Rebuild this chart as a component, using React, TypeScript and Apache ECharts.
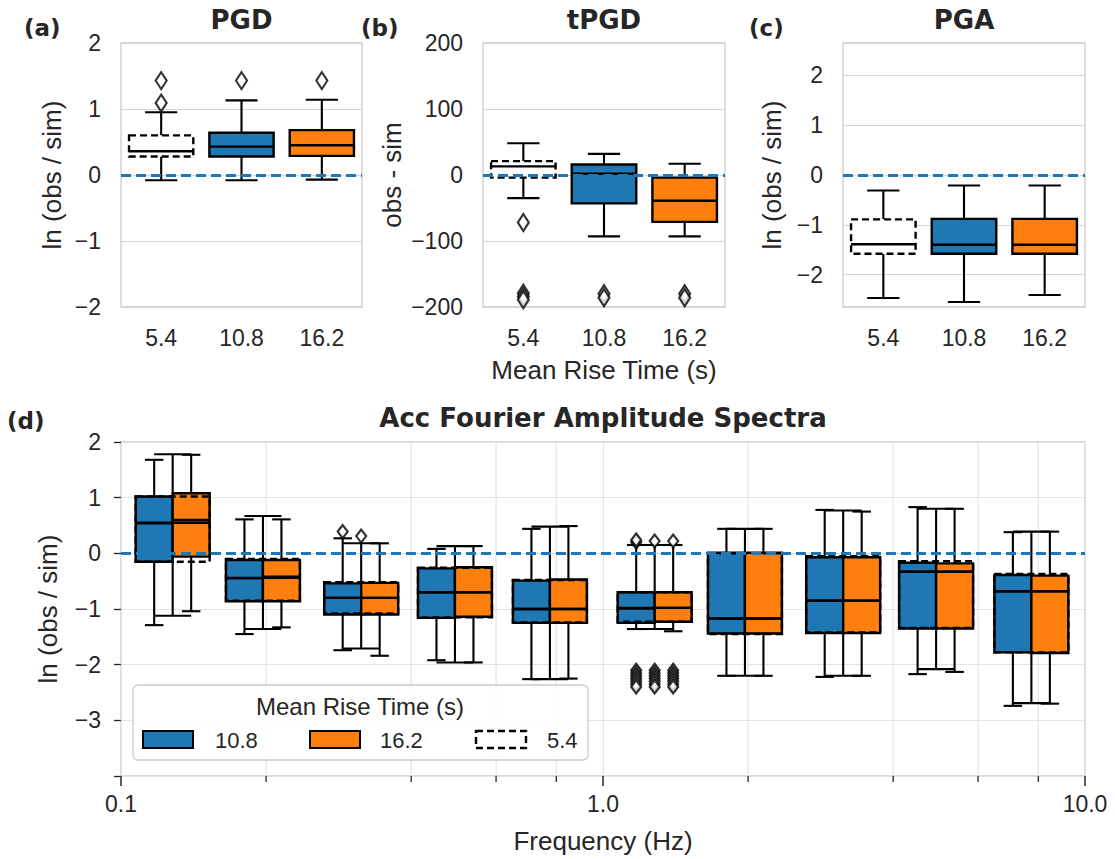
import React, { useEffect, useRef } from 'react';
import * as echarts from 'echarts';

const riseTimes = ['5.4', '10.8', '16.2'];

// each box: [lower whisker, Q1, median, Q3, upper whisker]
const pgdBoxes = [
  [-0.08, 0.28, 0.36, 0.6, 0.95],
  [-0.08, 0.28, 0.43, 0.64, 1.13],
  [-0.07, 0.29, 0.45, 0.68, 1.14],
];
const pgdOutliers = [[1.09, 1.43], [1.43], [1.43]];

const tpgdBoxes = [
  [-35, -4, 13, 21, 48],
  [-93, -43, 2, 16, 32],
  [-93, -71, -39, -4, 17],
];
const tpgdOutliers = [[-72, -179, -184, -189], [-180, -186], [-180, -186]];

const pgaBoxes = [
  [-2.47, -1.58, -1.39, -0.89, -0.31],
  [-2.55, -1.58, -1.4, -0.88, -0.21],
  [-2.41, -1.58, -1.4, -0.88, -0.21],
];
const pgaOutliers: number[][] = [[], [], []];

// Acc Fourier amplitude spectra, frequency bins (Hz)
const freqs = [0.128, 0.197, 0.315, 0.493, 0.776, 1.28, 1.97, 3.15, 4.91, 7.74];
const fas108 = [
  [-1.29, -0.15, 0.54, 1.02, 1.68],
  [-1.45, -0.86, -0.45, -0.12, 0.61],
  [-1.74, -1.1, -0.8, -0.54, 0.27],
  [-1.92, -1.16, -0.7, -0.27, 0.08],
  [-2.26, -1.25, -1.0, -0.49, 0.44],
  [-1.36, -1.25, -0.99, -0.7, 0.15],
  [-2.2, -1.44, -1.17, 0.01, 0.44],
  [-2.22, -1.43, -0.85, -0.07, 0.78],
  [-2.17, -1.35, -0.33, -0.17, 0.83],
  [-2.74, -1.78, -0.68, -0.39, 0.38],
];
const fas162 = [
  [-1.04, -0.06, 0.6, 1.08, 1.77],
  [-1.33, -0.86, -0.42, -0.12, 0.61],
  [-1.84, -1.1, -0.8, -0.53, 0.18],
  [-1.96, -1.14, -0.7, -0.25, 0.13],
  [-2.25, -1.25, -1.0, -0.47, 0.49],
  [-1.4, -1.23, -0.98, -0.7, 0.15],
  [-2.2, -1.44, -1.17, 0.01, 0.44],
  [-2.2, -1.43, -0.85, -0.07, 0.75],
  [-2.13, -1.35, -0.33, -0.18, 0.8],
  [-2.7, -1.79, -0.68, -0.4, 0.39],
];
const fas54 = [
  [-1.12, -0.15, 0.55, 1.02, 1.78],
  [-1.36, -0.85, -0.44, -0.1, 0.67],
  [-1.71, -1.08, -0.8, -0.52, 0.18],
  [-1.96, -1.15, -0.7, -0.26, 0.13],
  [-2.26, -1.24, -1.0, -0.48, 0.48],
  [-1.36, -1.23, -0.98, -0.7, 0.15],
  [-2.2, -1.45, -1.17, 0.0, 0.44],
  [-2.2, -1.42, -0.85, -0.05, 0.77],
  [-2.08, -1.34, -0.33, -0.14, 0.8],
  [-2.69, -1.78, -0.68, -0.37, 0.39],
];
const fasOut108 = [[], [], [0.39], [], [], [0.2, 0.24, -2.1, -2.15, -2.2, -2.25, -2.3, -2.35, -2.4], [], [], [], []];
const fasOut162 = [[], [], [], [], [], [0.22, -2.1, -2.15, -2.2, -2.25, -2.3, -2.35, -2.4], [], [], [], []];
const fasOut54 = [[], [], [0.31], [], [], [0.22, -2.1, -2.15, -2.2, -2.25, -2.3, -2.35, -2.4], [], [], [], []];
const freqMinorTicks = [0.2, 0.4, 0.6, 0.8, 2, 4, 6, 8];

const BLUE = '#1f77b4';
const ORANGE = '#ff7f0e';
const TEXT = '#262626';
const GRIDC = '#d6d6d6';
const SANS = '"Liberation Sans", Arial, Helvetica, sans-serif';
const BOLD = '"DejaVu Sans", sans-serif';
const BOXW_LOG = 0.1535; // box group width in decades

function fmt(v: number) {
  if (Math.abs(v - Math.round(v)) > 1e-6) return '';
  return v < 0 ? '\u2212' + Math.abs(Math.round(v)) : String(Math.round(v));
}

function boxRenderer(a: number, b: number, fill: string, dashed: boolean, widthOf: (api: any) => number) {
  return (params: any, api: any) => {
    const xv = api.value(0);
    const cx = api.coord([xv, 0])[0];
    const W = widthOf(api);
    const left = cx + a * W;
    const right = cx + b * W;
    const mid = (left + right) / 2;
    const ch = (right - left) / 4;
    const y = (i: number) => api.coord([xv, api.value(i)])[1];
    const yLo = y(1), yQ1 = y(2), yMed = y(3), yQ3 = y(4), yHi = y(5);
    const ls = { stroke: '#000', lineWidth: 2.1 };
    const rectStyle: any = { fill, stroke: '#000', lineWidth: 2.4 };
    if (dashed) rectStyle.lineDash = [7, 4];
    return {
      type: 'group',
      children: [
        { type: 'line', shape: { x1: mid, y1: yQ3, x2: mid, y2: yHi }, style: ls },
        { type: 'line', shape: { x1: mid - ch, y1: yHi, x2: mid + ch, y2: yHi }, style: ls },
        { type: 'line', shape: { x1: mid, y1: yQ1, x2: mid, y2: yLo }, style: ls },
        { type: 'line', shape: { x1: mid - ch, y1: yLo, x2: mid + ch, y2: yLo }, style: ls },
        { type: 'rect', shape: { x: left, y: yQ3, width: right - left, height: yQ1 - yQ3 }, style: rectStyle },
        { type: 'line', shape: { x1: left, y1: yMed, x2: right, y2: yMed }, style: { stroke: '#000', lineWidth: 2.4 } },
      ],
    };
  };
}

const catWidth = (api: any) => 0.8 * api.size([1, 0])[0];
const logWidth = (api: any) => api.size([BOXW_LOG, 0])[0];

function zeroLine(idx: number) {
  return {
    type: 'line',
    xAxisIndex: idx,
    yAxisIndex: idx,
    data: [],
    z: 6,
    silent: true,
    markLine: {
      symbol: 'none',
      silent: true,
      label: { show: false },
      lineStyle: { color: BLUE, type: [10, 5], width: 3 },
      data: [{ yAxis: 0 }],
    },
  };
}

function outlierSeries(idx: number, data: number[][], size: number[]) {
  return {
    type: 'scatter',
    xAxisIndex: idx,
    yAxisIndex: idx,
    data,
    z: 5,
    silent: true,
    clip: false,
    symbol: 'diamond',
    symbolSize: size,
    itemStyle: { color: '#ffffff', borderColor: '#000000', borderWidth: 2.2 },
  };
}

function catYAxis(idx: number, min: number, max: number, name: string, extra: any = {}) {
  return {
    type: 'value',
    gridIndex: idx,
    min,
    max,
    ...extra,
    name,
    nameLocation: 'middle',
    nameGap: idx === 1 ? 78 : idx === 2 ? 58 : 56,
    nameTextStyle: { color: TEXT, fontSize: 26, fontFamily: SANS },
    axisLine: { show: false, onZero: false },
    axisTick: { show: false },
    axisLabel: { color: TEXT, fontSize: 23, fontFamily: SANS, margin: 20, formatter: fmt },
    splitLine: { show: true, lineStyle: { color: GRIDC, width: 1.2 } },
  };
}

function catXAxis(idx: number, name?: string) {
  return {
    type: 'category',
    gridIndex: idx,
    data: riseTimes,
    name: name || '',
    nameLocation: 'middle',
    nameGap: 50,
    nameTextStyle: { color: TEXT, fontSize: 26, fontFamily: SANS },
    axisLine: { show: false, onZero: false },
    axisTick: { show: false },
    axisLabel: { color: TEXT, fontSize: 23, fontFamily: SANS, margin: 19 },
    splitLine: { show: false },
  };
}

function topBoxSeries(idx: number, boxes: number[][], outliers: number[][]) {
  const styles = [
    { fill: '#ffffff', dashed: true },
    { fill: BLUE, dashed: false },
    { fill: ORANGE, dashed: false },
  ];
  const series: any[] = boxes.map((b, i) => ({
    type: 'custom',
    xAxisIndex: idx,
    yAxisIndex: idx,
    z: 3,
    silent: true,
    renderItem: boxRenderer(-0.5, 0.5, styles[i].fill, styles[i].dashed, catWidth),
    encode: { x: 0, y: [1, 2, 3, 4, 5] },
    data: [[i, ...b]],
  }));
  const od: number[][] = [];
  outliers.forEach((arr, i) => arr.forEach((v) => od.push([i, v])));
  series.push(outlierSeries(idx, od, [11, 17]));
  series.push(zeroLine(idx));
  return series;
}

function fasSeries() {
  const lx = freqs.map((f) => Math.log10(f));
  const mk = (boxes: number[][]) => boxes.map((b, i) => [lx[i], ...b]);
  const series: any[] = [];
  series.push({
    type: 'custom',
    xAxisIndex: 3,
    yAxisIndex: 3,
    z: 1,
    silent: true,
    clip: false,
    encode: { x: 0, y: 1 },
    data: freqMinorTicks.map((f) => [Math.log10(f), 0]),
    renderItem: (params: any, api: any) => {
      const x = api.coord([api.value(0), 0])[0];
      const cs = params.coordSys;
      return {
        type: 'group',
        children: [
          { type: 'line', shape: { x1: x, y1: cs.y, x2: x, y2: cs.y + cs.height }, style: { stroke: '#e3e3e3', lineWidth: 1.2 } },
          { type: 'line', shape: { x1: x, y1: cs.y + cs.height, x2: x, y2: cs.y + cs.height + 6 }, style: { stroke: TEXT, lineWidth: 1.3 } },
        ],
      };
    },
  });
  const defs: [number[][], number, number, string, boolean][] = [
    [fas108, -0.5, 0, BLUE, false],
    [fas162, 0, 0.5, ORANGE, false],
    [fas54, -0.5, 0.5, 'none', true],
  ];
  defs.forEach(([boxes, a, b, fill, dashed]) => {
    series.push({
      type: 'custom',
      xAxisIndex: 3,
      yAxisIndex: 3,
      z: 3,
      silent: true,
      renderItem: boxRenderer(a, b, fill, dashed, logWidth),
      encode: { x: 0, y: [1, 2, 3, 4, 5] },
      data: mk(boxes),
    });
  });
  const od: number[][] = [];
  const outs: [number[][], number][] = [
    [fasOut108, -BOXW_LOG / 4],
    [fasOut54, 0],
    [fasOut162, BOXW_LOG / 4],
  ];
  outs.forEach(([arrs, off]) => arrs.forEach((arr, i) => arr.forEach((v) => od.push([lx[i] + off, v]))));
  series.push(outlierSeries(3, od, [10, 13]));
  series.push(zeroLine(3));
  return series;
}

function txt(text: string, x: number, y: number, size: number, bold: boolean, align = 'center') {
  return {
    type: 'text',
    x,
    y,
    silent: true,
    z: 20,
    style: {
      text,
      fill: TEXT,
      fontSize: size,
      fontWeight: bold ? 'bold' : 'normal',
      fontFamily: bold ? BOLD : SANS,
      align,
      verticalAlign: 'middle',
    },
  };
}

function buildOption(): any {
  const gridBase = {
    show: true,
    backgroundColor: '#ffffff',
    borderColor: '#cccccc',
    borderWidth: 1.3,
    containLabel: false,
    outerBoundsMode: 'none',
  };
  return {
    animation: false,
    backgroundColor: '#ffffff',
    grid: [
      { ...gridBase, left: 121, top: 43, width: 241, height: 264 },
      { ...gridBase, left: 483, top: 43, width: 242, height: 264 },
      { ...gridBase, left: 843, top: 43, width: 242, height: 264 },
      { ...gridBase, left: 121, top: 442, width: 964, height: 334 },
    ],
    xAxis: [
      catXAxis(0),
      catXAxis(1, 'Mean Rise Time (s)'),
      catXAxis(2),
      {
        type: 'value',
        gridIndex: 3,
        min: -1,
        max: 1,
        interval: 1,
        name: 'Frequency (Hz)',
        nameLocation: 'middle',
        nameGap: 52,
        nameTextStyle: { color: TEXT, fontSize: 26, fontFamily: SANS },
        axisLine: { show: false, onZero: false },
        axisTick: { show: true, length: 10, lineStyle: { color: TEXT, width: 1.5 } },
        axisLabel: {
          color: TEXT,
          fontSize: 23,
          fontFamily: SANS,
          margin: 16,
          formatter: (v: number) => Math.pow(10, v).toFixed(1),
        },
        splitLine: { show: true, lineStyle: { color: '#e3e3e3', width: 1.2 } },
      },
    ],
    yAxis: [
      catYAxis(0, -2, 2, 'ln (obs / sim)', { interval: 1 }),
      catYAxis(1, -200, 200, 'obs - sim', { interval: 100 }),
      catYAxis(2, -2.65, 2.65, 'ln (obs / sim)', { splitNumber: 5 }),
      {
        type: 'value',
        gridIndex: 3,
        min: -4,
        max: 2,
        interval: 1,
        name: 'ln (obs / sim)',
        nameLocation: 'middle',
        nameGap: 60,
        nameTextStyle: { color: TEXT, fontSize: 26, fontFamily: SANS },
        axisLine: { show: false, onZero: false },
        axisTick: { show: true, length: 7, lineStyle: { color: TEXT, width: 1.3 } },
        axisLabel: {
          color: TEXT,
          fontSize: 23,
          fontFamily: SANS,
          margin: 20,
          formatter: (v: number) => (v <= -4 ? '' : fmt(v)),
        },
        splitLine: { show: true, lineStyle: { color: '#e3e3e3', width: 1.2 } },
      },
    ],
    series: [
      ...topBoxSeries(0, pgdBoxes, pgdOutliers),
      ...topBoxSeries(1, tpgdBoxes, tpgdOutliers),
      ...topBoxSeries(2, pgaBoxes, pgaOutliers),
      ...fasSeries(),
    ],
    graphic: [
      txt('PGD', 241.5, 20, 26, true),
      txt('tPGD', 604, 20, 26, true),
      txt('PGA', 964, 20, 26, true),
      txt('(a)', 24, 28, 23, true, 'left'),
      txt('(b)', 361, 28, 23, true, 'left'),
      txt('(c)', 749, 28, 23, true, 'left'),
      txt('(d)', 7, 421, 23, true, 'left'),
      txt('Acc Fourier Amplitude Spectra', 603, 418, 26, true),
      {
        type: 'group',
        z: 15,
        children: [
          {
            type: 'rect',
            shape: { x: 133, y: 685, width: 455, height: 75, r: 5 },
            style: { fill: 'rgba(255,255,255,0.85)', stroke: '#cccccc', lineWidth: 1.3 },
            z: 15,
          },
          { ...txt('Mean Rise Time (s)', 360, 706, 24, false), z: 16 },
          { type: 'rect', shape: { x: 143, y: 731, width: 50, height: 17 }, style: { fill: BLUE, stroke: '#000', lineWidth: 2 }, z: 16 },
          { ...txt('10.8', 215, 740, 22, false, 'left'), z: 16 },
          { type: 'rect', shape: { x: 310, y: 731, width: 50, height: 17 }, style: { fill: ORANGE, stroke: '#000', lineWidth: 2 }, z: 16 },
          { ...txt('16.2', 380, 740, 22, false, 'left'), z: 16 },
          { type: 'rect', shape: { x: 476, y: 731, width: 50, height: 17 }, style: { fill: 'none', stroke: '#000', lineWidth: 2.4, lineDash: [7, 4] }, z: 16 },
          { ...txt('5.4', 547, 740, 22, false, 'left'), z: 16 },
        ],
      },
    ],
  };
}

export default function App() {
  const ref = useRef<HTMLDivElement>(null);
  useEffect(() => {
    document.body.style.margin = '0';
    if (!ref.current) return;
    const chart = echarts.init(ref.current, undefined, { renderer: 'svg' });
    chart.setOption(buildOption());
    return () => chart.dispose();
  }, []);
  return <div ref={ref} style={{ width: 1115, height: 859 }} />;
}
